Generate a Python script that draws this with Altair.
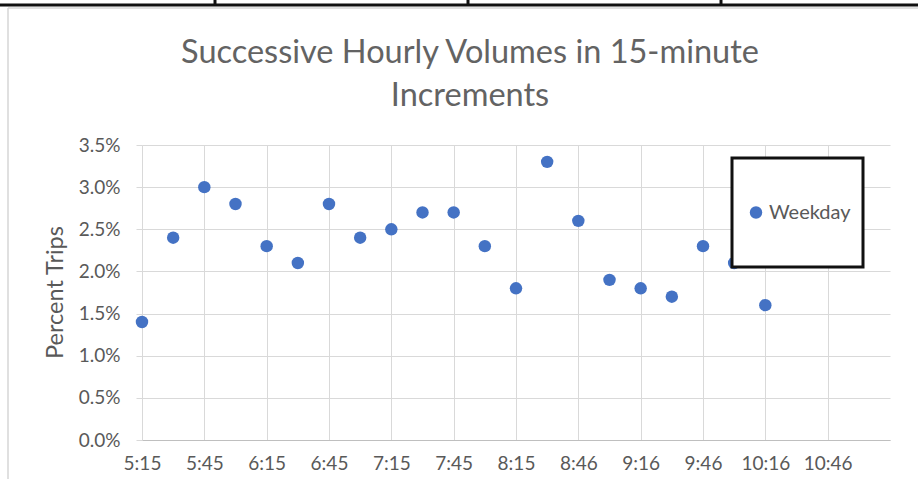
import altair as alt
import pandas as pd

# 15-minute start times of the successive hourly windows
times = ["5:15", "5:30", "5:45", "6:00", "6:15", "6:30", "6:45", "7:00",
         "7:15", "7:30", "7:45", "8:00", "8:15", "8:30", "8:46", "9:01",
         "9:16", "9:31", "9:46", "10:01", "10:16"]

# Weekday share of trips (percent) for each window
weekday_pct = [1.4, 2.4, 3.0, 2.8, 2.3, 2.1, 2.8, 2.4, 2.5, 2.7, 2.7,
               2.3, 1.8, 3.3, 2.6, 1.9, 1.8, 1.7, 2.3, 2.1, 1.6]

# Category labels shown on the horizontal axis (every other slot)
tick_labels = ["5:15", "5:45", "6:15", "6:45", "7:15", "7:45",
               "8:15", "8:46", "9:16", "9:46", "10:16", "10:46"]

y_ticks = [0.0, 0.005, 0.01, 0.015, 0.02, 0.025, 0.03, 0.035]

df = pd.DataFrame({
    "slot": list(range(len(times))),
    "time": times,
    "share": [v / 100 for v in weekday_pct],
    "series": ["Weekday"] * len(times),
})

FONT = "Lato"
GREY = "#595959"
GRID = "#d9d9d9"
BLUE = "#4472C4"

label_expr = "[" + ",".join(f"'{t}'" for t in tick_labels) + "][round(datum.value / 2)]"

points = alt.Chart(df).mark_circle(size=155, opacity=1).encode(
    x=alt.X(
        "slot:Q",
        scale=alt.Scale(domain=[0, 24], nice=False, zero=False),
        axis=alt.Axis(
            values=list(range(0, 2 * len(tick_labels), 2)),
            labelExpr=label_expr,
            title=None,
            grid=True,
            gridColor=GRID,
            ticks=False,
            domainColor="#bfbfbf",
            labelPadding=14,
            labelFont=FONT,
            labelFontSize=19,
            labelColor=GREY,
            labelOverlap=False,
            labelBound=False,
            labelFlush=False,
        ),
    ),
    y=alt.Y(
        "share:Q",
        scale=alt.Scale(domain=[0, 0.035], nice=False),
        axis=alt.Axis(
            values=y_ticks,
            format=".1%",
            title="Percent Trips",
            titleFont=FONT,
            titleFontSize=23.5,
            titleFontWeight="normal",
            titleColor=GREY,
            titleX=-87,
            titleY=147,
            titleAngle=-90,
            titleAlign="center",
            titleBaseline="middle",
            grid=True,
            gridColor=GRID,
            domain=False,
            ticks=True,
            tickSize=6,
            tickColor=GRID,
            labelPadding=16,
            labelFont=FONT,
            labelFontSize=19,
            labelColor=GREY,
        ),
    ),
    color=alt.Color(
        "series:N",
        scale=alt.Scale(domain=["Weekday"], range=[BLUE]),
        legend=alt.Legend(
            title=None,
            orient="none",
            legendX=590,
            legendY=13,
            strokeColor="#111111",
            fillColor="white",
            padding=12,
            clipHeight=85,
            symbolType="circle",
            symbolSize=155,
            symbolStrokeWidth=0,
            symbolOpacity=1,
            symbolOffset=2,
            labelOffset=3,
            labelFont=FONT,
            labelFontSize=20,
            labelColor=GREY,
        ),
    ),
)

# Page furniture around the chart: table border above, frame on the left
one = alt.Data(values=[{}])
frame = [
    alt.Chart(one).mark_rule(color="#111111", strokeWidth=3).encode(
        x=alt.value(-142), x2=alt.value(776), y=alt.value(-140)),
    alt.Chart(one).mark_rule(color="#111111", strokeWidth=3).encode(
        x=alt.value(73), y=alt.value(-145), y2=alt.value(-140)),
    alt.Chart(one).mark_rule(color="#111111", strokeWidth=3).encode(
        x=alt.value(326), y=alt.value(-145), y2=alt.value(-140)),
    alt.Chart(one).mark_rule(color="#111111", strokeWidth=3).encode(
        x=alt.value(579), y=alt.value(-145), y2=alt.value(-140)),
    alt.Chart(one).mark_rule(color="#d6d6d6", strokeWidth=1.5).encode(
        x=alt.value(-134), x2=alt.value(776), y=alt.value(-137)),
    alt.Chart(one).mark_rule(color="#d6d6d6", strokeWidth=1.5).encode(
        x=alt.value(-134), y=alt.value(-137), y2=alt.value(334)),
]

chart = alt.layer(*frame, points).properties(
    width=748,
    height=295,
    autosize=alt.AutoSizeParams(type="none"),
    padding={"left": 142, "top": 145, "right": 28, "bottom": 39},
    background="white",
    title=alt.TitleParams(
        text=["Successive Hourly Volumes in 15-minute", "Increments"],
        font=FONT,
        fontSize=32.5,
        fontWeight="normal",
        color="#636363",
        anchor="middle",
        lineHeight=43,
        dx=-46,
        dy=146,
        offset=32,
    ),
).configure_view(stroke=None).configure_legend(strokeWidth=3)

chart.save("out.html", embed_options={"renderer": "svg", "actions": False})
